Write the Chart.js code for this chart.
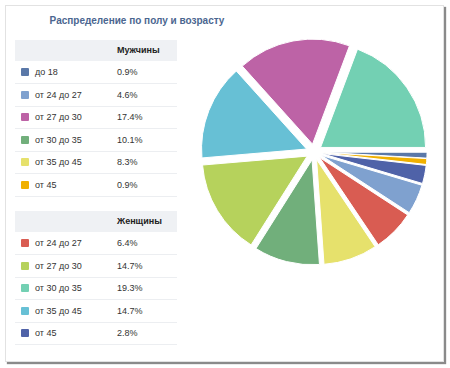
<!DOCTYPE html>
<html>
<head>
<meta charset="utf-8">
<script src="https://cdn.jsdelivr.net/npm/chart.js@4.4.0/dist/chart.umd.min.js"></script>
<style>
  html, body { margin: 0; padding: 0; background: #fff; }
  body { width: 450px; height: 368px; position: relative; overflow: hidden; font-family: "Liberation Sans", Arial, sans-serif; }
  #frame { position: absolute; left: 5px; top: 5px; width: 437px; height: 355px; background: #fff;
           border: 1px solid #e2e2e2; box-shadow: 2px 2px 1px #8a8a8a; }
  #title { position: absolute; left: 0; top: 15px; width: 274px; text-align: center; font-weight: bold;
           font-size: 10px; color: #4b6690; white-space: nowrap; }
  .hdr { position: absolute; left: 15px; width: 162px; height: 21px; background: #eff1f4; }
  .hdr span { position: absolute; left: 102px; top: 0; line-height: 21px; font-size: 9px; font-weight: bold; color: #222; }
  .row { position: absolute; left: 15px; width: 162px; height: 22px; border-bottom: 1px solid #eceef1; font-size: 9px; color: #333; }
  .row .sw { position: absolute; left: 6px; top: 7px; width: 8px; height: 8px; border-radius: 1px; }
  .row .lb { position: absolute; left: 20px; top: 0; line-height: 22px; white-space: nowrap; }
  .row .vl { position: absolute; left: 102px; top: 0; line-height: 22px; white-space: nowrap; }
  #pieBox { position: absolute; left: 194px; top: 32px; width: 240px; height: 240px; }
</style>
</head>
<body>
<div id="frame"></div>
<div id="title">Распределение по полу и возрасту</div>
<div id="table"></div>
<div id="pieBox"><canvas id="pie"></canvas></div>
<script>
const titleText = 'Распределение по полу и возрасту';
const menHeader = 'Мужчины';
const menAges = ['до 18', 'от 24 до 27', 'от 27 до 30', 'от 30 до 35', 'от 35 до 45', 'от 45'];
const menValues = [0.9, 4.6, 17.4, 10.1, 8.3, 0.9];
const menColors = ['#5a78a8', '#7fa1cf', '#bd63a6', '#71af7b', '#e6e16c', '#f0b000'];
const womenHeader = 'Женщины';
const womenAges = ['от 24 до 27', 'от 27 до 30', 'от 30 до 35', 'от 35 до 45', 'от 45'];
const womenValues = [6.4, 14.7, 19.3, 14.7, 2.8];
const womenColors = ['#d95c52', '#b6d25c', '#73d0b3', '#67c0d5', '#4f62a8'];

// ---- table (legend) ----
const table = document.getElementById('table');
function addHeader(text, top) {
  const h = document.createElement('div');
  h.className = 'hdr'; h.style.top = top + 'px';
  h.innerHTML = '<span>' + text + '</span>';
  table.appendChild(h);
}
function addRows(ages, vals, cols, top) {
  ages.forEach((a, i) => {
    const r = document.createElement('div');
    r.className = 'row'; r.style.top = (top + i * 22.5) + 'px';
    r.innerHTML = '<div class="sw" style="background:' + cols[i] + '"></div><div class="lb">' + a +
      '</div><div class="vl">' + vals[i].toFixed(1) + '%</div>';
    table.appendChild(r);
  });
}
addHeader(menHeader, 40);
addRows(menAges, menValues, menColors, 61);
addHeader(womenHeader, 211);
addRows(womenAges, womenValues, womenColors, 232);

// ---- exploded pie: keep every slice at the same radius (no per-slice radius growth) ----
const baseArcDraw = Chart.ArcElement.prototype.draw;
Chart.ArcElement.prototype.draw = function (ctx) {
  const c = this.circumference;
  this.circumference = Math.PI / 2;
  baseArcDraw.call(this, ctx);
  this.circumference = c;
};

// slices in ascending order starting at 3 o'clock
const slices = [];
menAges.forEach((a, i) => slices.push({label: 'Мужчины ' + a, value: menValues[i], color: menColors[i]}));
womenAges.forEach((a, i) => slices.push({label: 'Женщины ' + a, value: womenValues[i], color: womenColors[i]}));
slices.sort((p, q) => p.value - q.value);

new Chart(document.getElementById('pie'), {
  type: 'pie',
  data: {
    labels: slices.map(s => s.label),
    datasets: [{
      data: slices.map(s => s.value),
      backgroundColor: slices.map(s => s.color),
      borderColor: '#ffffff',
      borderWidth: 1,
      offset: 32,
      radius: 105
    }]
  },
  options: {
    responsive: true,
    maintainAspectRatio: false,
    animation: false,
    rotation: 90,
    layout: { padding: 0 },
    plugins: { legend: { display: false }, tooltip: { enabled: false }, title: { display: false } },
    events: []
  }
});
</script>
</body>
</html>
